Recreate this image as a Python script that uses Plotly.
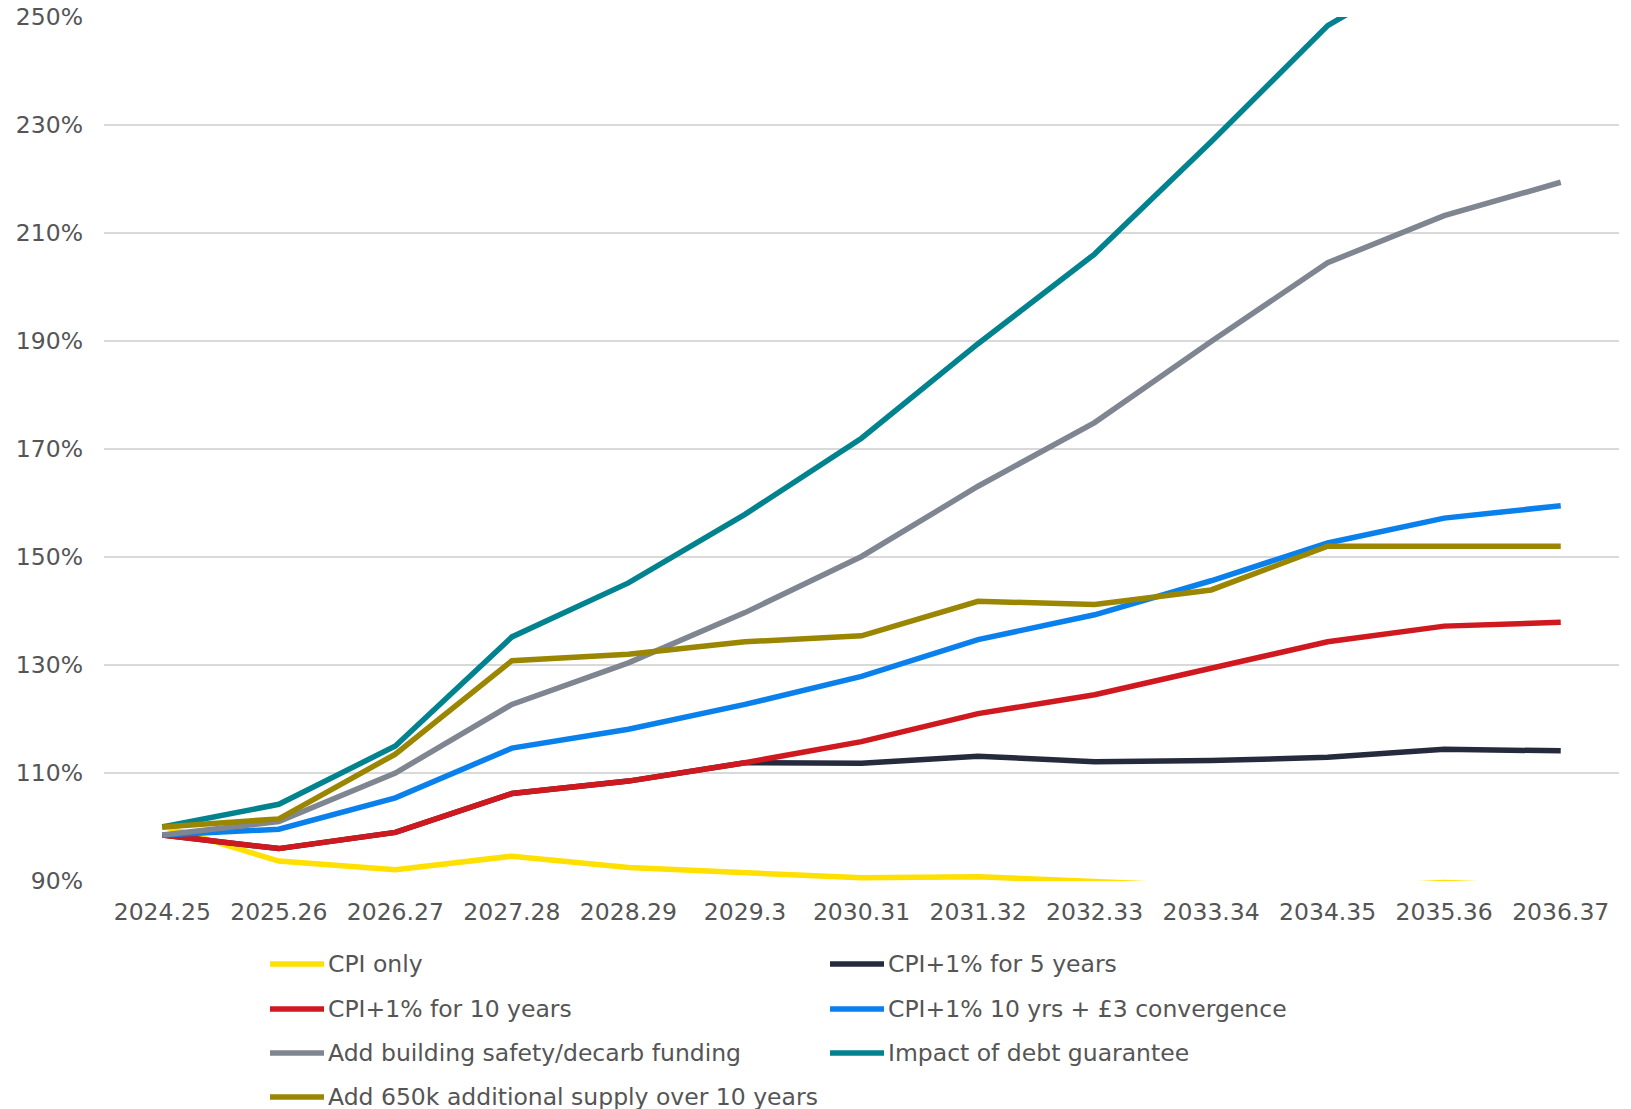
import plotly.graph_objects as go

# Financial years on the category axis
years = ["2024.25", "2025.26", "2026.27", "2027.28", "2028.29", "2029.3", "2030.31",
         "2031.32", "2032.33", "2033.34", "2034.35", "2035.36", "2036.37"]

# Index values (%) for each scenario
cpi_only = [100.2, 93.7, 92.1, 94.6, 92.5, 91.5, 90.6, 90.8, 89.8, 89.0, 88.8, 89.7, 89.0]
cpi1_5yrs = [98.5, 96.0, 99.0, 106.2, 108.5, 111.9, 111.8, 113.1, 112.1, 112.3, 112.9, 114.4, 114.1]
cpi1_10yrs = [98.5, 96.0, 99.0, 106.2, 108.5, 111.9, 115.8, 121.0, 124.5, 129.3, 134.3, 137.2, 137.9]
cpi1_conv = [98.5, 99.6, 105.4, 114.6, 118.1, 122.7, 127.9, 134.7, 139.3, 145.6, 152.6, 157.2, 159.5]
safety_decarb = [98.5, 101.0, 110.0, 122.7, 130.4, 139.7, 150.1, 163.1, 174.9, 189.9, 204.5, 213.2, 219.4]
debt_guarantee = [100.0, 104.2, 115.0, 135.2, 145.2, 157.9, 172.0, 189.5, 206.1, 226.9, 248.4, 261.0, 271.0]
extra_supply = [100.0, 101.5, 113.5, 130.8, 132.0, 134.3, 135.4, 141.8, 141.2, 143.9, 152.0, 152.0, 152.0]

series_names = [
    "CPI only",
    "CPI+1% for 5 years",
    "CPI+1% for 10 years",
    "CPI+1% 10 yrs + £3 convergence",
    "Add building safety/decarb funding",
    "Impact of debt guarantee",
    "Add 650k additional supply over 10 years",
]
series_values = [cpi_only, cpi1_5yrs, cpi1_10yrs, cpi1_conv, safety_decarb, debt_guarantee, extra_supply]
series_colors = ["#FFE000", "#262A3D", "#D0181F", "#0A80EC", "#7F8691", "#00838F", "#9A8600"]

y_ticks = [90, 110, 130, 150, 170, 190, 210, 230, 250]

FONT = "DejaVu Sans"
TEXT_COLOR = "#555555"
FONT_SIZE = 23.5
LINE_W = 5.5

W, H = 1631, 1109
M_L, M_R, M_T, M_B = 104, 12, 17, 228
plot_w = W - M_L - M_R
plot_h = H - M_T - M_B

fig = go.Figure()
for name, vals, col in zip(series_names, series_values, series_colors):
    fig.add_trace(go.Scatter(
        x=years, y=vals, name=name, mode="lines",
        line=dict(color=col, width=LINE_W),
        showlegend=False,
    ))

# Two-column legend below the plot
def px_to_paper_x(px):
    return (px - M_L) / plot_w

def px_to_paper_y(py):
    return (H - M_B - py) / plot_h

col_x = [270, 830]
row_y = [964, 1009, 1053, 1097]
shapes = []
annotations = []
for i, (name, col) in enumerate(zip(series_names, series_colors)):
    cx = col_x[i % 2]
    ry = row_y[i // 2]
    shapes.append(dict(
        type="line", xref="paper", yref="paper",
        x0=px_to_paper_x(cx), x1=px_to_paper_x(cx + 54),
        y0=px_to_paper_y(ry), y1=px_to_paper_y(ry),
        line=dict(color=col, width=LINE_W),
    ))
    annotations.append(dict(
        xref="paper", yref="paper",
        x=px_to_paper_x(cx + 56), y=px_to_paper_y(ry),
        xanchor="left", yanchor="middle", showarrow=False,
        text=name, font=dict(family=FONT, size=FONT_SIZE, color=TEXT_COLOR),
    ))

fig.update_layout(
    width=W, height=H,
    margin=dict(l=M_L, r=M_R, t=M_T, b=M_B, autoexpand=False),
    paper_bgcolor="white", plot_bgcolor="white",
    font=dict(family=FONT, size=FONT_SIZE, color=TEXT_COLOR),
    shapes=shapes, annotations=annotations,
    xaxis=dict(
        type="category", range=[-0.5, len(years) - 0.5],
        showgrid=False, zeroline=False, showline=False, automargin=False,
        ticks="", ticklabelstandoff=14,
        tickfont=dict(family=FONT, size=FONT_SIZE, color=TEXT_COLOR),
    ),
    yaxis=dict(
        range=[90, 250], tickvals=y_ticks,
        ticktext=[f"{v}%" for v in y_ticks], automargin=False,
        showgrid=True, gridcolor="#D9D9D9", gridwidth=2,
        zeroline=False, showline=False, ticks="", ticklabelstandoff=20,
        tickfont=dict(family=FONT, size=FONT_SIZE, color=TEXT_COLOR),
    ),
)

fig.write_html("out.html")
